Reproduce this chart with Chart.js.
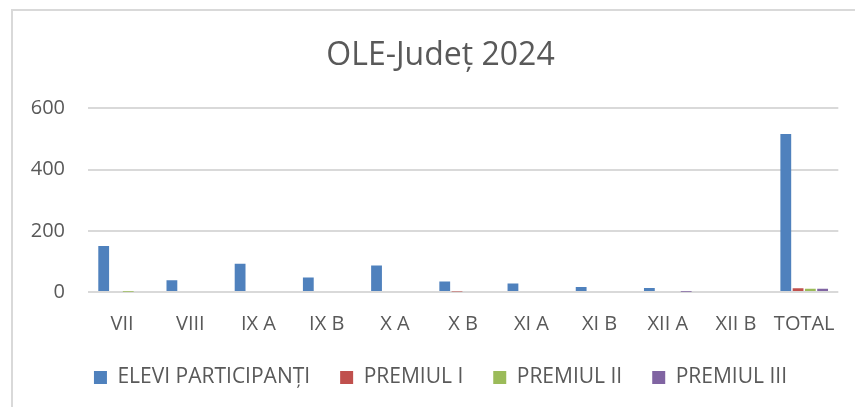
<!DOCTYPE html>
<html>
<head>
<meta charset="utf-8">
<script src="https://cdn.jsdelivr.net/npm/chart.js@4.4.0/dist/chart.umd.min.js"></script>
<style>
  html, body { margin: 0; padding: 0; background: #fff; }
  #wrap { position: relative; width: 855px; height: 407px; }
  #frame {
    position: absolute; left: 11px; top: 9px; right: -5px; bottom: -5px;
    border-left: 2px solid #d9d9d9; border-top: 2px solid #d9d9d9;
    pointer-events: none;
  }
</style>
</head>
<body>
<div id="wrap">
  <canvas id="chart" width="855" height="407"></canvas>
  <div id="frame"></div>
</div>
<script>
const categories = ["VII", "VIII", "IX A", "IX B", "X A", "X B", "XI A", "XI B", "XII A", "XII B", "TOTAL"];
const eleviParticipanti = [150, 38, 92, 47, 87, 34, 28, 16, 13, 0, 516];
const premiulI = [0, 0, 0, 0, 0, 2, 0, 0, 0, 0, 12];
const premiulII = [1, 0, 0, 0, 0, 0, 0, 0, 0, 0, 11];
const premiulIII = [0, 0, 0, 0, 0, 0, 0, 0, 1, 0, 11];
const yTicks = [0, 200, 400, 600];

const textColor = "#595959";
Chart.defaults.font.family = "'Open Sans', sans-serif";
Chart.defaults.color = textColor;

const bar = (label, data, color) => ({
  label: label,
  data: data,
  backgroundColor: color,
  categoryPercentage: 0.72,
  barPercentage: 0.88,
});

new Chart(document.getElementById("chart").getContext("2d"), {
  type: "bar",
  data: {
    labels: categories,
    datasets: [
      bar("ELEVI PARTICIPANȚI", eleviParticipanti, "#4f81bd"),
      bar("PREMIUL I", premiulI, "#c0504d"),
      bar("PREMIUL II", premiulII, "#9bbb59"),
      bar("PREMIUL III", premiulIII, "#8064a2"),
    ],
  },
  options: {
    responsive: false,
    animation: false,
    layout: { padding: { left: 26, right: 0, top: 0, bottom: 9 } },
    scales: {
      x: {
        afterFit: (scale) => { scale.height = 45; },
        grid: { display: false, drawTicks: false },
        border: { display: false },
        ticks: { font: { size: 20 }, padding: 20, color: textColor, maxRotation: 0, autoSkip: false },
      },
      y: {
        min: 0,
        max: 600,
        afterFit: (scale) => { scale.width = 62; },
        afterBuildTicks: (scale) => { scale.ticks = yTicks.map((v) => ({ value: v })); },
        grid: { color: "#d9d9d9", lineWidth: 2, drawTicks: false },
        border: { display: false },
        ticks: { font: { size: 20 }, padding: 23, color: textColor },
      },
      // empty right-hand strip so the plot ends where the reference does
      yRight: {
        position: "right",
        afterFit: (scale) => { scale.width = 10; },
        grid: { display: false, drawTicks: false },
        border: { display: false },
        ticks: { display: false },
      },
    },
    plugins: {
      title: {
        display: true,
        text: "OLE-Județ 2024",
        font: { size: 32, weight: "normal" },
        color: textColor,
        padding: { top: 37, bottom: 33 },
      },
      legend: {
        position: "bottom",
        labels: {
          boxWidth: 13,
          boxHeight: 13,
          padding: 30,
          font: { size: 21 },
          color: textColor,
        },
      },
      tooltip: { enabled: false },
    },
  },
});
</script>
</body>
</html>
